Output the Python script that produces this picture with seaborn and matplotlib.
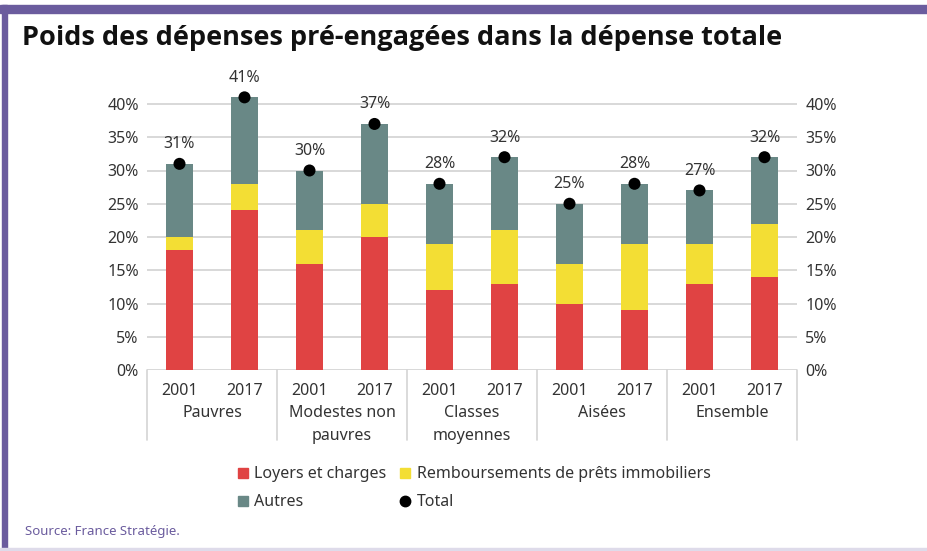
import numpy as np
import pandas as pd
import matplotlib
matplotlib.use("Agg")
import matplotlib.pyplot as plt
from matplotlib.lines import Line2D
from matplotlib.patches import Rectangle
import matplotlib.transforms as mtransforms
import seaborn as sns

# donnees (en % de la depense totale)
groupes = ["Pauvres", "Modestes non\npauvres", "Classes\nmoyennes", "Aisées", "Ensemble"]
annees = ["2001", "2017"]
loyers = [18, 24, 16, 20, 12, 13, 10, 9, 13, 14]
remboursements = [2, 4, 5, 5, 7, 8, 6, 10, 6, 8]
autres = [11, 13, 9, 12, 9, 11, 9, 9, 8, 10]
total = [31, 41, 30, 37, 28, 32, 25, 28, 27, 32]

c_red = "#e04343"
c_yel = "#f3de34"
c_gry = "#698886"
c_pur = "#6b5c9e"
c_txt = "#333333"

cats = [f"{g} {a}" for g in groupes for a in annees]
df = pd.DataFrame({
    "cat": cats,
    "annee": annees * len(groupes),
    "loyers": loyers,
    "remb": remboursements,
    "autres": autres,
    "total": total,
})
df["cum_remb"] = df["loyers"] + df["remb"]
df["cum_autres"] = df["cum_remb"] + df["autres"]

sns.set_theme(style="white")
plt.rcParams["font.family"] = ["Noto Sans", "DejaVu Sans"]

fig = plt.figure(figsize=(9.28, 5.51), dpi=100)
ax = fig.add_axes([147 / 928, 1 - 370 / 551, 650 / 928, 42 * 6.65 / 551])

# barres empilees (cumul du haut vers le bas)
for col, c in [("cum_autres", c_gry), ("cum_remb", c_yel), ("loyers", c_red)]:
    sns.barplot(data=df, x="cat", y=col, color=c, width=0.41, saturation=1,
                linewidth=0, ax=ax, order=cats)
sns.scatterplot(data=df, x="cat", y="total", color="black", s=75,
                edgecolor="none", ax=ax, zorder=5)

for i, t in enumerate(total):
    ax.text(i, t + 1.75, f"{t}%", ha="center", va="bottom", fontsize=11.5,
            color=c_txt)

ax.set_xlim(-0.5, len(cats) - 0.5)
ax.set_ylim(0, 42)
ax.set_yticks(np.arange(0, 41, 5))
ax.set_yticklabels([f"{v}%" for v in range(0, 41, 5)])
ax.yaxis.grid(True, color="#d6d6d6", linewidth=1.3)
ax.set_axisbelow(True)
for s in ax.spines.values():
    s.set_visible(False)
ax.set_xlabel("")
ax.set_ylabel("")
ax.set_xticks(range(len(cats)))
ax.set_xticklabels(df["annee"])
ax.tick_params(axis="y", length=0, pad=6, labelsize=11.5, labelcolor=c_txt,
               labelright=True)
ax.tick_params(axis="x", length=0, pad=9.5, labelsize=11.5, labelcolor=c_txt)

# separateurs de groupes + noms de groupes
trans = mtransforms.blended_transform_factory(ax.transData, ax.transAxes)
for b in np.arange(-0.5, len(cats), 2):
    ax.plot([b, b], [0, -0.25], transform=trans, color="#d4d4d4",
            linewidth=1.2, clip_on=False)
for k, g in enumerate(groupes):
    ax.text(2 * k + 0.5, -0.126, g, transform=trans, ha="center", va="top",
            fontsize=11.5, color=c_txt, linespacing=1.55)

# legende
handles = [
    Line2D([], [], marker="s", linestyle="none", color=c_red, markersize=7.5,
           label="Loyers et charges"),
    Line2D([], [], marker="s", linestyle="none", color=c_gry, markersize=7.5,
           label="Autres"),
    Line2D([], [], marker="s", linestyle="none", color=c_yel, markersize=7.5,
           label="Remboursements de prêts immobiliers"),
    Line2D([], [], marker="o", linestyle="none", color="black", markersize=7.5,
           label="Total"),
]
fig.legend(handles=handles, ncol=2, loc="upper left",
           bbox_to_anchor=(222 / 928, 1 - 452 / 551), frameon=False,
           fontsize=11.5, handlelength=0.8, handletextpad=0.3,
           columnspacing=0.8, labelspacing=0.75, labelcolor=c_txt)

# titre et source
fig.text(22 / 928, 1 - 38 / 551, "Poids des dépenses pré-engagées dans la dépense totale",
         fontsize=19.5, fontweight="bold", color="#111111", va="center",
         family=["Open Sans", "DejaVu Sans"])
fig.text(25 / 928, 1 - 532 / 551, "Source: France Stratégie.", fontsize=9.5,
         color=c_pur, va="center")

# cadre
fig.patches.append(Rectangle((0, 1 - 13 / 551), 1, 8 / 551, transform=fig.transFigure,
                             color=c_pur, zorder=10))
fig.patches.append(Rectangle((2 / 928, 0), 5 / 928, 1 - 5 / 551, transform=fig.transFigure,
                             color=c_pur, zorder=10))
fig.patches.append(Rectangle((0, 1 / 551), 1, 2 / 551, transform=fig.transFigure,
                             color="#dedbea", zorder=10))

fig.savefig("out.png", dpi=100)
